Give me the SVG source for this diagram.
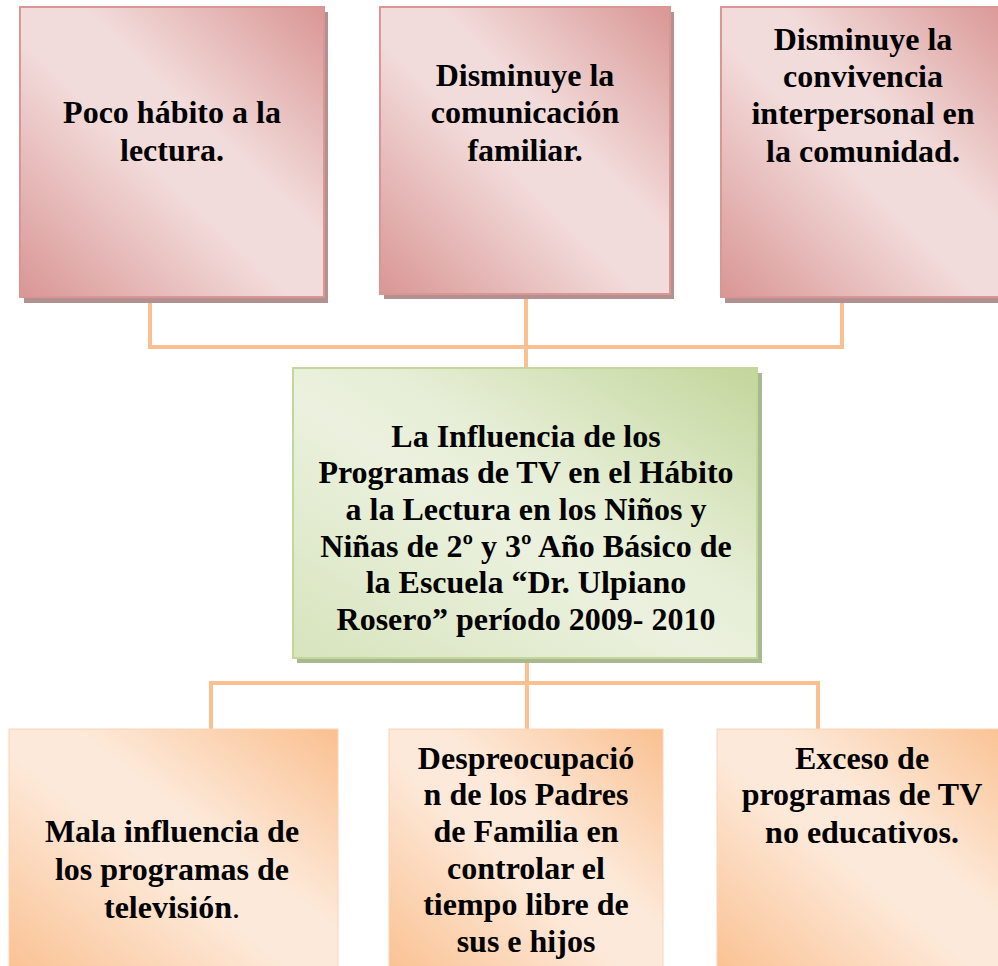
<svg xmlns="http://www.w3.org/2000/svg" width="998" height="966" viewBox="0 0 998 966">
<defs>
<linearGradient id="gPink" x1="0" y1="1" x2="1" y2="0">
<stop offset="0" stop-color="#d99694"/>
<stop offset="0.45" stop-color="#f2dcdb"/>
<stop offset="0.6" stop-color="#f2dcdb"/>
<stop offset="1" stop-color="#d99694"/>
</linearGradient>
<linearGradient id="gGreen" x1="0" y1="1" x2="1" y2="0">
<stop offset="0" stop-color="#d7e4bd"/>
<stop offset="0.45" stop-color="#ebf1de"/>
<stop offset="0.6" stop-color="#e6eed6"/>
<stop offset="1" stop-color="#c3d69b"/>
</linearGradient>
<linearGradient id="gOrange" x1="0" y1="1" x2="1" y2="0">
<stop offset="0" stop-color="#fac090"/>
<stop offset="0.45" stop-color="#fde9d9"/>
<stop offset="0.6" stop-color="#fde9d9"/>
<stop offset="1" stop-color="#fac090"/>
</linearGradient>
</defs>
<style>
text{font-family:"Liberation Serif","Times New Roman",serif;font-weight:bold;font-size:32px;fill:#000;text-anchor:middle}
.pink{fill:url(#gPink);stroke:#d99694;stroke-width:2}
.pinkSh{fill:#b39190}
.green{fill:url(#gGreen);stroke:#c3d69b;stroke-width:2}
.greenSh{fill:#a9b98f}
.orange{fill:url(#gOrange);stroke:#fbd4b4;stroke-width:1}
.conn{fill:none;stroke:#fac090;stroke-width:4}
</style>
<rect width="998" height="966" fill="#fff"/>
<g id="connectors">
<path class="conn" d="M150 299 V347 H842 V299"/>
<path class="conn" d="M526 296 V370"/>
<path class="conn" d="M527 660 V729"/>
<path class="conn" d="M211 729 V683 H818 V729"/>
</g>
<g id="n1">
<rect class="pinkSh" x="24" y="12" width="304" height="291"/>
<rect class="pink" x="20" y="7" width="304" height="290"/>
<text x="172" y="123">Poco hábito a la</text>
<text x="172" y="161">lectura.</text>
</g>
<g id="n2">
<rect class="pinkSh" x="384" y="12" width="290" height="287"/>
<rect class="pink" x="380" y="7" width="290" height="287"/>
<text x="525" y="86">Disminuye la</text>
<text x="525" y="123">comunicación</text>
<text x="525" y="161">familiar.</text>
</g>
<g id="n3">
<rect class="pinkSh" x="725" y="12" width="290" height="291"/>
<rect class="pink" x="721" y="7" width="290" height="290"/>
<text x="863" y="50">Disminuye la</text>
<text x="863" y="87">convivencia</text>
<text x="863" y="124">interpersonal en</text>
<text x="863" y="162">la comunidad.</text>
</g>
<g id="center">
<rect class="greenSh" x="297" y="373" width="465" height="290"/>
<rect class="green" x="293" y="368" width="464" height="290"/>
<text x="526" y="447">La Influencia de los</text>
<text x="526" y="483">Programas de TV en el Hábito</text>
<text x="526" y="520">a la Lectura en los Niños y</text>
<text x="526" y="557">Niñas de 2º y 3º Año Básico de</text>
<text x="526" y="593">la Escuela “Dr. Ulpiano</text>
<text x="526" y="630">Rosero” período 2009- 2010</text>
</g>
<g id="b1">
<rect class="orange" x="9" y="729" width="329" height="250"/>
<text x="172" y="842">Mala influencia de</text>
<text x="172" y="880">los programas de</text>
<text x="172" y="918">televisión<tspan font-weight="normal">.</tspan></text>
</g>
<g id="b2">
<rect class="orange" x="389" y="729" width="274" height="250"/>
<text x="526" y="769">Despreocupació</text>
<text x="526" y="805">n de los Padres</text>
<text x="526" y="842">de Familia en</text>
<text x="526" y="879">controlar el</text>
<text x="526" y="915">tiempo libre de</text>
<text x="526" y="952">sus e hijos</text>
</g>
<g id="b3">
<rect class="orange" x="717" y="729" width="300" height="250"/>
<text x="862" y="769">Exceso de</text>
<text x="862" y="805">programas de TV</text>
<text x="862" y="843">no educativos.</text>
</g>
</svg>
